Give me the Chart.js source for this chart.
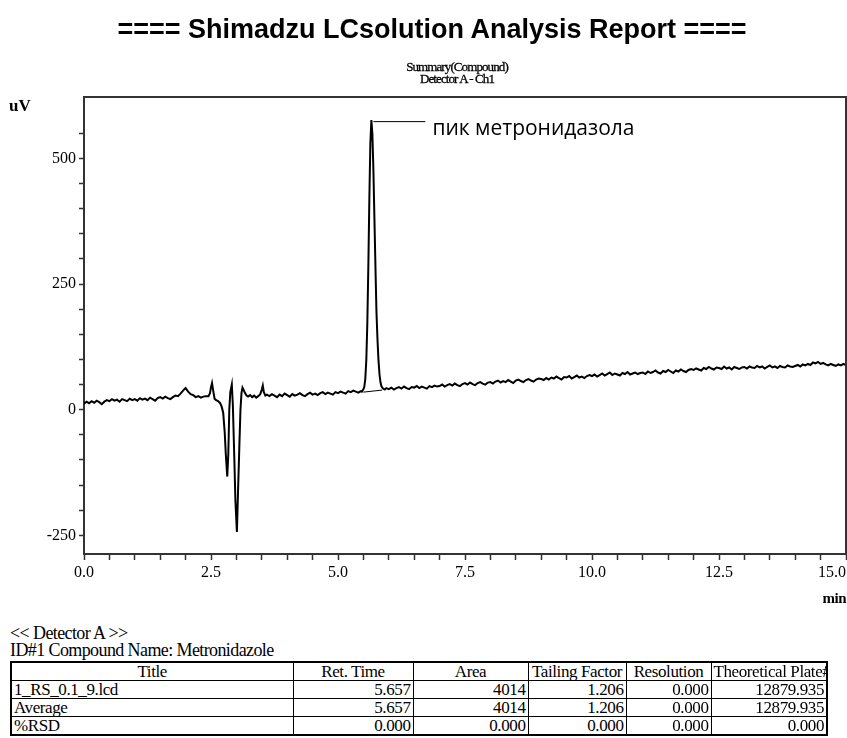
<!DOCTYPE html>
<html>
<head>
<meta charset="utf-8">
<script src="https://cdn.jsdelivr.net/npm/chart.js@4.4.1/dist/chart.umd.min.js"></script>
<style>
  html, body { margin: 0; padding: 0; background: #fff; }
  body { width: 847px; height: 738px; position: relative; overflow: hidden; color: #000;
         font-family: "Liberation Serif", "Times New Roman", serif; }
  #chart { position: absolute; left: 0; top: 0; }
  #report-title { position: absolute; top: 14px; left: 0; width: 864px; text-align: center;
                  font: bold 27px "Liberation Sans", Arial, sans-serif; white-space: nowrap; }
  #subtitle { position: absolute; top: 61px; left: 357px; width: 200px; text-align: center;
              font-size: 13px; line-height: 12px; letter-spacing: -0.9px; -webkit-text-stroke: 0.3px #000; }
  #y-unit { position: absolute; left: 9px; top: 96px; font-weight: bold; font-size: 17px; }
  #x-unit { position: absolute; right: 1px; top: 590px; font-weight: bold; font-size: 15px; letter-spacing: -0.5px; }
  #detector { position: absolute; left: 10px; top: 623px; font-size: 18px; letter-spacing: -0.6px; }
  #compound { position: absolute; left: 10px; top: 640px; font-size: 18px; letter-spacing: -0.6px; }
  #summary { position: absolute; left: 10px; top: 661px; border-collapse: collapse; table-layout: fixed;
             width: 816px; font-size: 17px; letter-spacing: -0.4px; border: 2px solid #000; }
  #summary td, #summary th { border: 1px solid #000; height: 17px; line-height: 17px; padding: 0 2px;
                             white-space: nowrap; overflow: hidden; font-weight: normal; }
  #summary th { text-align: center; }
  #summary td { text-align: right; }
  #summary td:first-child { text-align: left; }
</style>
</head>
<body>
<canvas id="chart" width="847" height="620"></canvas>
<div id="report-title">==== Shimadzu LCsolution Analysis Report ====</div>
<div id="subtitle">Summary(Compound)<br>Detector A - Ch1</div>
<div id="y-unit">uV</div>
<div id="x-unit">min</div>
<div id="detector">&lt;&lt; Detector A &gt;&gt;</div>
<div id="compound">ID#1 Compound Name: Metronidazole</div>
<table id="summary">
  <colgroup>
    <col style="width:282px"><col style="width:120px"><col style="width:115px">
    <col style="width:98px"><col style="width:85px"><col style="width:116px">
  </colgroup>
  <thead></thead>
  <tbody></tbody>
</table>
<script>
// trace sampled every 0.05 min outside the peaks
const sampleStep = 0.05;

const earlyStart = 0.0;
const earlyValues = [
  12, 16, 13, 17, 14, 18, 15, 11, 16, 19,
  17, 21, 18, 20, 16, 21, 19, 17, 22, 19,
  21, 18, 23, 20, 22, 19, 24, 21, 18, 23,
  25, 22, 26, 23, 21, 25, 28, 27, 32, 38,
  43, 36, 31, 29, 25, 27, 24, 26, 27
];

// solvent front, 2.45 - 3.60 min
const solventTimes = [
  2.45, 2.48, 2.50, 2.52, 2.54, 2.57, 2.60, 2.64, 2.68, 2.71,
  2.74, 2.77, 2.79, 2.82, 2.84, 2.86, 2.88, 2.91, 2.93, 2.96,
  2.98, 3.01, 3.03, 3.06, 3.08, 3.10, 3.12, 3.14, 3.17, 3.20,
  3.23, 3.27, 3.31, 3.35, 3.39, 3.43, 3.47, 3.50, 3.52, 3.54,
  3.57, 3.60
];
const solventValues = [
  27, 33, 45, 53, 40, 22, 19, 17, 13, 6,
  -6, -45, -86, -133, -90, 0, 35, 50, 10, -100,
  -180, -243, -170, -66, 0, 33, 44, 40, 33, 28,
  26, 29, 25, 28, 24, 27, 31, 40, 48, 35,
  28, 30
];

const midStart = 3.65;
const midValues = [
  27, 31, 28, 25, 30, 27, 32, 29, 26, 31,
  28, 30, 33, 29, 27, 31, 34, 30, 32, 29,
  33, 35, 31, 34, 32, 30, 35, 33, 36, 34,
  32, 37, 35, 38, 36, 34, 37
];

// metronidazole peak, RT 5.657
const peakTimes = [
  5.47, 5.497, 5.517, 5.537, 5.557, 5.577, 5.597, 5.617, 5.637, 5.657,
  5.677, 5.697, 5.717, 5.737, 5.757, 5.777, 5.797, 5.817, 5.837, 5.857,
  5.887, 5.92, 5.95
];
const peakValues = [
  36, 40, 45, 61, 98, 171, 284, 418, 531, 576,
  548, 476, 380, 285, 195, 140, 98, 70, 54, 46,
  42, 40, 43
];

const lateStart = 6.0;
const lateValues = [
  41, 44, 40, 43, 45, 42, 46, 43, 41, 45, 44, 47, 43, 46, 44, 42, 47, 45, 48, 46,
  47, 50, 46, 49, 51, 48, 52, 49, 47, 51, 53, 50, 54, 51, 49, 53, 55, 52, 50, 54,
  55, 52, 56, 58, 54, 57, 55, 59, 56, 53, 58, 60, 57, 55, 59, 61, 58, 56, 60, 62,
  61, 59, 63, 60, 64, 62, 66, 63, 60, 65, 64, 67, 62, 65, 68, 64, 66, 63, 67, 69,
  67, 70, 66, 69, 72, 68, 71, 74, 69, 72, 70, 68, 73, 71, 75, 70, 72, 74, 71, 73,
  74, 71, 76, 73, 75, 78, 74, 72, 77, 75, 79, 76, 73, 78, 76, 80, 77, 75, 79, 81,
  79, 82, 80, 78, 83, 81, 85, 82, 80, 84, 83, 81, 86, 82, 84, 80, 85, 83, 81, 84,
  85, 82, 86, 84, 83, 87, 84, 86, 82, 85, 88, 84, 86, 83, 87, 85, 84, 88, 86, 85,
  87, 89, 86, 90, 88, 91, 89, 94, 92, 95, 91, 93, 90, 88, 91, 89, 87, 90, 88, 91,
  89
];

// integration baseline under the peak
const baselineTimes = [5.50, 5.87];
const baselineValues = [35, 39];

const peakLabel = "пик метронидазола";

const xMin = 0, xMax = 15, xMinor = 0.5, xMajor = 2.5;
const yMin = -287, yMax = 622, yMinor = 50, yMajor = 250;

const tableHeaders = ["Title", "Ret. Time", "Area", "Tailing Factor", "Resolution", "Theoretical Plate#"];
const sampleRow = ["1_RS_0.1_9.lcd", "5.657", "4014", "1.206", "0.000", "12879.935"];
const averageRow = ["Average", "5.657", "4014", "1.206", "0.000", "12879.935"];
const rsdRow = ["%RSD", "0.000", "0.000", "0.000", "0.000", "0.000"];

// table
document.querySelector("#summary thead").innerHTML =
  "<tr>" + tableHeaders.map((h) => `<th>${h}</th>`).join("") + "</tr>";
document.querySelector("#summary tbody").innerHTML = [sampleRow, averageRow, rsdRow]
  .map((r) => "<tr>" + r.map((c) => `<td>${c}</td>`).join("") + "</tr>").join("");

// trace points
const trace = [];
earlyValues.forEach((v, i) => trace.push({ x: +(earlyStart + i * sampleStep).toFixed(2), y: v }));
solventTimes.forEach((t, i) => trace.push({ x: t, y: solventValues[i] }));
midValues.forEach((v, i) => trace.push({ x: +(midStart + i * sampleStep).toFixed(2), y: v }));
peakTimes.forEach((t, i) => trace.push({ x: t, y: peakValues[i] }));
lateValues.forEach((v, i) => trace.push({ x: +(lateStart + i * sampleStep).toFixed(2), y: v }));

const integration = baselineTimes.map((t, i) => ({ x: t, y: baselineValues[i] }));

const serif = "'Liberation Serif', 'Times New Roman', serif";
const frameColor = "#333";

const framePlugin = {
  id: "frame",
  afterDraw(chart) {
    const { ctx, chartArea: a } = chart;
    ctx.save();
    ctx.strokeStyle = frameColor;
    ctx.lineWidth = 2;
    ctx.beginPath();
    ctx.moveTo(a.left, a.top);
    ctx.lineTo(a.right, a.top);
    ctx.lineTo(a.right, a.bottom);
    ctx.stroke();
    ctx.restore();
  },
};

const peakLabelPlugin = {
  id: "peakLabel",
  afterDatasetsDraw(chart) {
    const { ctx, scales } = chart;
    const top = Math.max(...peakValues);
    const px = scales.x.getPixelForValue(peakTimes[peakValues.indexOf(top)]);
    const py = scales.y.getPixelForValue(top);
    ctx.save();
    ctx.strokeStyle = "#000";
    ctx.lineWidth = 1;
    ctx.beginPath();
    ctx.moveTo(px + 2, py + 1.5);
    ctx.lineTo(px + 54, py + 1.5);
    ctx.stroke();
    ctx.fillStyle = "#000";
    ctx.font = "21px 'Open Sans', sans-serif";
    ctx.textBaseline = "alphabetic";
    ctx.fillText(peakLabel, px + 61, py + 15);
    ctx.restore();
  },
};

const isMultiple = (v, step) => Math.abs(v / step - Math.round(v / step)) < 1e-6;

new Chart(document.getElementById("chart"), {
  type: "line",
  data: {
    datasets: [
      { data: trace, borderColor: "#000", borderWidth: 2, pointRadius: 0, tension: 0 },
      { data: integration, borderColor: "#000", borderWidth: 1, pointRadius: 0, tension: 0 },
    ],
  },
  options: {
    responsive: false,
    animation: false,
    devicePixelRatio: 1,
    layout: { padding: { top: 97, right: 1, left: 0, bottom: 0 } },
    plugins: { legend: { display: false }, tooltip: { enabled: false } },
    scales: {
      x: {
        type: "linear",
        min: xMin,
        max: xMax,
        ticks: {
          stepSize: xMinor,
          autoSkip: false,
          maxRotation: 0,
          padding: 3,
          color: "#000",
          font: { family: serif, size: 16 },
          // last label pushed left so it stays inside the page
          callback: (v) => (isMultiple(v, xMajor) ? (v === xMax ? v.toFixed(1) + "       " : v.toFixed(1)) : ""),
        },
        grid: { drawOnChartArea: false, tickLength: 6, tickColor: frameColor, tickWidth: 1.5 },
        border: { color: frameColor, width: 2 },
        afterFit: (s) => { s.height = 66; s.paddingRight = 0; },
      },
      y: {
        min: yMin,
        max: yMax,
        afterBuildTicks: (s) => { s.ticks = s.ticks.filter((t) => isMultiple(t.value, yMinor)); },
        ticks: {
          stepSize: yMinor,
          autoSkip: false,
          padding: 3,
          color: "#000",
          font: { family: serif, size: 16 },
          callback: (v) => (isMultiple(v, yMajor) ? String(v) : ""),
        },
        grid: { drawOnChartArea: false, tickLength: 5, tickColor: frameColor, tickWidth: 1.5 },
        border: { color: frameColor, width: 2 },
        afterFit: (s) => { s.width = 84; },
      },
    },
  },
  plugins: [framePlugin, peakLabelPlugin],
});
</script>
</body>
</html>
